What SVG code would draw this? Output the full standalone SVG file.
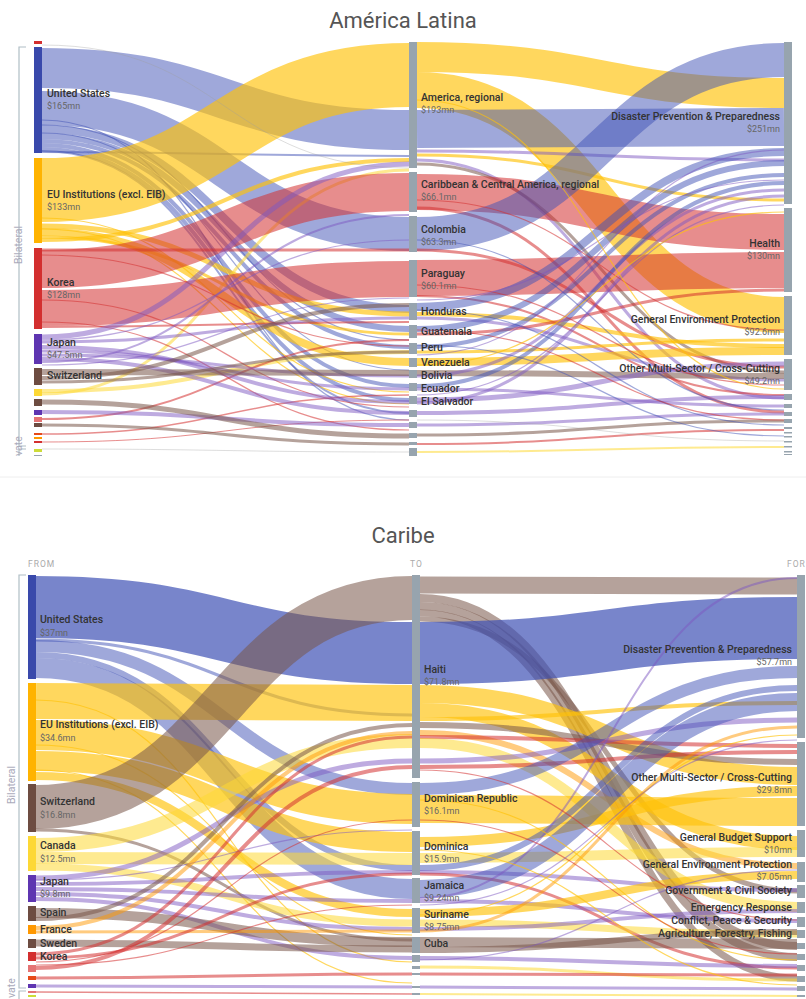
<svg xmlns="http://www.w3.org/2000/svg" width="806" height="999" viewBox="0 0 806 999">
<style>
.lk path{fill:none}
.b{stroke:#3f51b5;stroke-opacity:.5}
.bd{stroke:#3f51b5;stroke-opacity:.7}
.y{stroke:#ffc107;stroke-opacity:.65}
.yl{stroke:#fdd835;stroke-opacity:.55}
.r{stroke:#d32f2f;stroke-opacity:.55}
.p{stroke:#7e57c2;stroke-opacity:.5}
.w{stroke:#795548;stroke-opacity:.55}
.o{stroke:#ff9800;stroke-opacity:.5}
.g{stroke:#9e9e9e;stroke-opacity:.35}
.th{stroke-width:1.2}
.nb{fill:#3949ab}.ny{fill:#ffb300}.nyl{fill:#fdd835}.nr{fill:#d32f2f}.np{fill:#5e35b1}.nw{fill:#6d4c41}.ng{fill:#97a4ae}.no{fill:#ff9800}.npk{fill:#e57373}.nrr{fill:#e64a19}.nlg{fill:#cddc39}
text{font-family:Roboto,"Liberation Sans",sans-serif}
.t{font-size:10.5px;font-weight:500;fill:#333}
.v{font-size:9px;fill:#666}
.e{text-anchor:end}
.ttl{font-size:22px;fill:#555;text-anchor:middle}
.ax{font-size:8.5px;fill:#aaa;letter-spacing:1px}
.gr{font-size:10.5px;fill:#aab}
.br{stroke:#b0bec5;fill:none;stroke-width:1.2}
</style>
<rect width="806" height="999" fill="#fff"/>
<text class="ttl" x="403" y="28">América Latina</text>
<text class="ttl" x="403" y="543">Caribe</text>
<line x1="0" y1="477" x2="806" y2="477" stroke="#eee"/>
<text class="ax" x="28" y="567">FROM</text>
<text class="ax" x="410" y="567">TO</text>
<text class="ax" x="787" y="567">FOR</text>
<g id="brackets">
<path class="br" d="M26 47H19V446H26"/>
<path class="br" d="M26 449H19V456"/>
<text class="gr" transform="translate(22 245) rotate(-90)" text-anchor="middle">Bilateral</text>
<text class="gr" transform="translate(22 456) rotate(-90)">vate</text>
<path class="br" d="M26 575H19V988H26"/>
<path class="br" d="M26 991H19V999"/>
<text class="gr" transform="translate(15 785) rotate(-90)" text-anchor="middle">Bilateral</text>
<text class="gr" transform="translate(15 998) rotate(-90)">vate</text>
</g>
<g id="links" class="lk">
<!-- top: left to middle -->
<path class="b" stroke-width="40" d="M42 68C225 68 225 130 409 130"/>
<path class="b" stroke-width="34" d="M42 108C225 108 225 234 409 234"/>
<path class="b" stroke-width="8" d="M42 129C225 129 225 309 409 309"/>
<path class="b" stroke-width="6" d="M42 136C225 136 225 329 409 329"/>
<path class="b" stroke-width="4" d="M42 141C225 141 225 347 409 347"/>
<path class="b" stroke-width="4" d="M42 145C225 145 225 386 409 386"/>
<path class="b" stroke-width="4" d="M42 149C225 149 225 400 409 400"/>
<path class="b" stroke-width="2" d="M42 152C225 152 225 156 409 156"/>
<path class="b" stroke-width="2" d="M42 151C225 151 225 413 409 413"/>
<path class="b th" d="M42 120C225 120 225 420 409 420"/>
<path class="b th" d="M42 125C225 125 225 340 409 340"/>
<path class="b th" d="M42 133C225 133 225 370 409 370"/>
<path class="y" stroke-width="64" d="M42 190C225 190 225 75 409 75"/>
<path class="y" stroke-width="5" d="M42 226C225 226 225 314 409 314"/>
<path class="y" stroke-width="8" d="M42 232C225 232 225 362 409 362"/>
<path class="y" stroke-width="4" d="M42 240C225 240 225 160 409 160"/>
<path class="y" stroke-width="3" d="M42 237C225 237 225 334 409 334"/>
<path class="y th" d="M42 218C225 218 225 392 409 392"/>
<path class="y th" d="M42 229C225 229 225 404 409 404"/>
<path class="yl" stroke-width="4" d="M42 391C225 391 225 352 409 352"/>
<path class="yl" stroke-width="3" d="M42 394C225 394 225 170 409 170"/>
<path class="r" stroke-width="38" d="M42 269C225 269 225 192 409 192"/>
<path class="r" stroke-width="36" d="M42 308C225 308 225 279 409 279"/>
<path class="r" stroke-width="3" d="M42 250C225 250 225 250 409 250"/>
<path class="r" stroke-width="2" d="M42 327C225 327 225 322 409 322"/>
<path class="r" stroke-width="2" d="M42 419C225 419 225 340 409 340"/>
<path class="r" stroke-width="1.5" d="M42 434C225 434 225 395 409 395"/>
<path class="r" stroke-width="1" d="M42 442C225 442 225 420 409 420"/>
<path class="r th" d="M42 255C225 255 225 346 409 346"/>
<path class="r th" d="M42 300C225 300 225 407 409 407"/>
<path class="r th" d="M42 322C225 322 225 430 409 430"/>
<path class="p" stroke-width="5" d="M42 337C225 337 225 164 409 164"/>
<path class="p" stroke-width="3" d="M42 342C225 342 225 318 409 318"/>
<path class="p" stroke-width="4" d="M42 347C225 347 225 402 409 402"/>
<path class="p" stroke-width="3" d="M42 351C225 351 225 389 409 389"/>
<path class="p" stroke-width="3" d="M42 355C225 355 225 376 409 376"/>
<path class="p" stroke-width="4" d="M42 359C225 359 225 413 409 413"/>
<path class="p" stroke-width="2" d="M42 362C225 362 225 215 409 215"/>
<path class="p" stroke-width="4" d="M42 412C225 412 225 425 409 425"/>
<path class="p th" d="M42 365C225 365 225 298 409 298"/>
<path class="p th" d="M42 340C225 340 225 240 409 240"/>
<path class="w" stroke-width="6" d="M42 372C225 372 225 373 409 373"/>
<path class="w" stroke-width="4" d="M42 378C225 378 225 305 409 305"/>
<path class="w" stroke-width="3" d="M42 382C225 382 225 352 409 352"/>
<path class="w" stroke-width="5" d="M42 402C225 402 225 436 409 436"/>
<path class="w" stroke-width="3" d="M42 425C225 425 225 444 409 444"/>
<path class="g" stroke-width="1" d="M42 45C225 45 225 168 409 168"/>
<path class="g" stroke-width="1" d="M42 449C225 449 225 452 409 452"/>
<!-- top: middle to right -->
<path class="y" stroke-width="30" d="M417 57C600 57 600 93 784 93"/>
<path class="y" stroke-width="36" d="M417 90C600 90 600 315 784 315"/>
<path class="b" stroke-width="38" d="M417 129C600 129 600 127 784 127"/>
<path class="p" stroke-width="3" d="M417 151C600 151 600 160 784 160"/>
<path class="y" stroke-width="3" d="M417 155C600 155 600 200 784 200"/>
<path class="p" stroke-width="3" d="M417 160C600 160 600 398 784 398"/>
<path class="w" stroke-width="3" d="M417 164C600 164 600 372 784 372"/>
<path class="r" stroke-width="36" d="M417 192C600 192 600 232 784 232"/>
<path class="r" stroke-width="3" d="M417 208C600 208 600 412 784 412"/>
<path class="b" stroke-width="34" d="M417 234C600 234 600 60 784 60"/>
<path class="r" stroke-width="3" d="M417 250C600 250 600 367 784 367"/>
<path class="r" stroke-width="36" d="M417 278C600 278 600 270 784 270"/>
<path class="r" stroke-width="2" d="M417 296C600 296 600 395 784 395"/>
<path class="b" stroke-width="8" d="M417 307C600 307 600 152 784 152"/>
<path class="y" stroke-width="4" d="M417 314C600 314 600 346 784 346"/>
<path class="p" stroke-width="3" d="M417 318C600 318 600 380 784 380"/>
<path class="b" stroke-width="6" d="M417 329C600 329 600 163 784 163"/>
<path class="r" stroke-width="3" d="M417 334C600 334 600 290 784 290"/>
<path class="b" stroke-width="4" d="M417 347C600 347 600 175 784 175"/>
<path class="y" stroke-width="3" d="M417 352C600 352 600 340 784 340"/>
<path class="y" stroke-width="8" d="M417 362C600 362 600 351 784 351"/>
<path class="w" stroke-width="6" d="M417 373C600 373 600 376 784 376"/>
<path class="p" stroke-width="3" d="M417 376C600 376 600 190 784 190"/>
<path class="b" stroke-width="4" d="M417 386C600 386 600 183 784 183"/>
<path class="p" stroke-width="3" d="M417 389C600 389 600 406 784 406"/>
<path class="p" stroke-width="5" d="M417 400C600 400 600 364 784 364"/>
<path class="p" stroke-width="3" d="M417 403C600 403 600 196 784 196"/>
<path class="p" stroke-width="4" d="M417 413C600 413 600 397 784 397"/>
<path class="p" stroke-width="3" d="M417 425C600 425 600 414 784 414"/>
<path class="w" stroke-width="3" d="M417 435C600 435 600 421 784 421"/>
<path class="r" stroke-width="2" d="M417 444C600 444 600 430 784 430"/>
<path class="yl" stroke-width="2" d="M417 452C600 452 600 447 784 447"/>
<path class="g" stroke-width="1" d="M417 420C600 420 600 441 784 441"/>
<path class="b th" d="M417 240C600 240 600 410 784 410"/>
<path class="b th" d="M417 310C600 310 600 425 784 425"/>
<path class="b th" d="M417 345C600 345 600 436 784 436"/>
<path class="r th" d="M417 200C600 200 600 330 784 330"/>
<path class="r th" d="M417 285C600 285 600 385 784 385"/>
<path class="r th" d="M417 330C600 330 600 420 784 420"/>
<path class="p th" d="M417 300C600 300 600 180 784 180"/>
<path class="p th" d="M417 355C600 355 600 150 784 150"/>
<path class="p th" d="M417 395C600 395 600 205 784 205"/>
<path class="y th" d="M417 100C600 100 600 389 784 389"/>
<path class="y th" d="M417 365C600 365 600 212 784 212"/>
<!-- bottom: left to middle -->
<path class="bd" stroke-width="62" d="M36 607C224 607 224 653 412 653"/>
<path class="b" stroke-width="12" d="M36 646C224 646 224 789 412 789"/>
<path class="b" stroke-width="6" d="M36 655C224 655 224 868 412 868"/>
<path class="b" stroke-width="20" d="M36 668C224 668 224 889 412 889"/>
<path class="b" stroke-width="3" d="M36 640C224 640 224 715 412 715"/>
<path class="y" stroke-width="36" d="M36 701C224 701 224 703 412 703"/>
<path class="y" stroke-width="30" d="M36 735C224 735 224 809 412 809"/>
<path class="y" stroke-width="20" d="M36 761C224 761 224 842 412 842"/>
<path class="y" stroke-width="8" d="M36 776C224 776 224 913 412 913"/>
<path class="y th" d="M36 700C224 700 224 962 412 962"/>
<path class="y th" d="M36 745C224 745 224 935 412 935"/>
<path class="y th" d="M36 770C224 770 224 983 412 983"/>
<path class="w" stroke-width="44" d="M36 807C224 807 224 598 412 598"/>
<path class="w" stroke-width="3" d="M36 830C224 830 224 940 412 940"/>
<path class="yl" stroke-width="14" d="M36 845C224 845 224 741 412 741"/>
<path class="yl" stroke-width="12" d="M36 858C224 858 224 859 412 859"/>
<path class="yl" stroke-width="7" d="M36 867C224 867 224 923 412 923"/>
<path class="p" stroke-width="5" d="M36 878C224 878 224 761 412 761"/>
<path class="p" stroke-width="4" d="M36 884C224 884 224 872 412 872"/>
<path class="p" stroke-width="4" d="M36 889C224 889 224 901 412 901"/>
<path class="p" stroke-width="4" d="M36 894C224 894 224 929 412 929"/>
<path class="p" stroke-width="4" d="M36 899C224 899 224 958 412 958"/>
<path class="p th" d="M36 880C224 880 224 830 412 830"/>
<path class="w" stroke-width="10" d="M36 913C224 913 224 942 412 942"/>
<path class="w" stroke-width="4" d="M36 919C224 919 224 725 412 725"/>
<path class="o" stroke-width="4" d="M36 928C224 928 224 733 412 733"/>
<path class="o" stroke-width="3" d="M36 932C224 932 224 931 412 931"/>
<path class="w" stroke-width="7" d="M36 943C224 943 224 949 412 949"/>
<path class="r" stroke-width="3" d="M36 954C224 954 224 737 412 737"/>
<path class="r" stroke-width="3" d="M36 958C224 958 224 874 412 874"/>
<path class="r" stroke-width="4" d="M36 968C224 968 224 767 412 767"/>
<path class="r" stroke-width="3" d="M36 978C224 978 224 974 412 974"/>
<path class="r th" d="M36 962C224 962 224 820 412 820"/>
<path class="r th" d="M36 965C224 965 224 905 412 905"/>
<path class="p" stroke-width="3" d="M36 986C224 986 224 987 412 987"/>
<path class="r" stroke-width="1.5" d="M36 992C224 992 224 994 412 994"/>
<!-- bottom: middle to right -->
<path class="w" stroke-width="17" d="M420 585C608 585 608 586 797 586"/>
<path class="w" stroke-width="8" d="M420 598C608 598 608 946 797 946"/>
<path class="w" stroke-width="8" d="M420 606C608 606 608 957 797 957"/>
<path class="w" stroke-width="7" d="M420 613C608 613 608 978 797 978"/>
<path class="w" stroke-width="5" d="M420 619C608 619 608 891 797 891"/>
<path class="bd" stroke-width="62" d="M420 653C608 653 608 628 797 628"/>
<path class="y" stroke-width="18" d="M420 694C608 694 608 776 797 776"/>
<path class="y" stroke-width="14" d="M420 710C608 710 608 843 797 843"/>
<path class="y" stroke-width="4" d="M420 719C608 719 608 703 797 703"/>
<path class="w" stroke-width="6" d="M420 725C608 725 608 762 797 762"/>
<path class="o" stroke-width="6" d="M420 733C608 733 608 866 797 866"/>
<path class="r" stroke-width="4" d="M420 737C608 737 608 746 797 746"/>
<path class="yl" stroke-width="10" d="M420 743C608 743 608 907 797 907"/>
<path class="p" stroke-width="5" d="M420 761C608 761 608 720 797 720"/>
<path class="r" stroke-width="4" d="M420 767C608 767 608 752 797 752"/>
<path class="b" stroke-width="12" d="M420 789C608 789 608 672 797 672"/>
<path class="y" stroke-width="28" d="M420 809C608 809 608 812 797 812"/>
<path class="y" stroke-width="10" d="M420 842C608 842 608 791 797 791"/>
<path class="yl" stroke-width="10" d="M420 858C608 858 608 852 797 852"/>
<path class="b" stroke-width="6" d="M420 868C608 868 608 688 797 688"/>
<path class="p" stroke-width="4" d="M420 872C608 872 608 890 797 890"/>
<path class="r" stroke-width="3" d="M420 874C608 874 608 968 797 968"/>
<path class="b" stroke-width="18" d="M420 889C608 889 608 702 797 702"/>
<path class="p" stroke-width="4" d="M420 901C608 901 608 921 797 921"/>
<path class="p" stroke-width="2" d="M420 898C608 898 608 578 797 578"/>
<path class="y" stroke-width="8" d="M420 913C608 913 608 875 797 875"/>
<path class="yl" stroke-width="7" d="M420 923C608 923 608 934 797 934"/>
<path class="p" stroke-width="4" d="M420 929C608 929 608 911 797 911"/>
<path class="o" stroke-width="3" d="M420 931C608 931 608 727 797 727"/>
<path class="w" stroke-width="10" d="M420 942C608 942 608 944 797 944"/>
<path class="w" stroke-width="6" d="M420 950C608 950 608 932 797 932"/>
<path class="p" stroke-width="4" d="M420 958C608 958 608 966 797 966"/>
<path class="yl" stroke-width="3" d="M420 967C608 967 608 980 797 980"/>
<path class="r" stroke-width="3" d="M420 974C608 974 608 975 797 975"/>
<path class="p" stroke-width="3" d="M420 987C608 987 608 989 797 989"/>
<path class="yl" stroke-width="2" d="M420 994C608 994 608 996 797 996"/>
<path class="y th" d="M420 800C608 800 608 960 797 960"/>
<path class="y th" d="M420 850C608 850 608 985 797 985"/>
<path class="y th" d="M420 915C608 915 608 735 797 735"/>
<path class="r th" d="M420 820C608 820 608 954 797 954"/>
<path class="r th" d="M420 770C608 770 608 920 797 920"/>
<path class="p th" d="M420 905C608 905 608 740 797 740"/>
<path class="p th" d="M420 960C608 960 608 870 797 870"/>
</g>
<g id="top-left-nodes">
<rect class="nr" x="34" y="41" width="8" height="3"/>
<g id="t-us"><rect class="nb" x="34" y="47" width="8" height="106"/><text class="t" x="47" y="97">United States</text><text class="v" x="47" y="109">$165mn</text></g>
<g id="t-eu"><rect class="ny" x="34" y="158" width="8" height="85"/><text class="t" x="47" y="198">EU Institutions (excl. EIB)</text><text class="v" x="47" y="210">$133mn</text></g>
<g id="t-korea"><rect class="nr" x="34" y="248" width="8" height="81"/><text class="t" x="47" y="286">Korea</text><text class="v" x="47" y="298">$128mn</text></g>
<g id="t-japan"><rect class="np" x="34" y="334" width="8" height="30"/><text class="t" x="47" y="346">Japan</text><text class="v" x="47" y="358">$47.5mn</text></g>
<g id="t-swiss"><rect class="nw" x="34" y="368" width="8" height="17"/><text class="t" x="47" y="379">Switzerland</text></g>
<rect class="nyl" x="34" y="389" width="8" height="7"/>
<rect class="nw" x="34" y="399" width="8" height="7"/>
<rect class="np" x="34" y="410" width="8" height="5"/>
<rect class="npk" x="34" y="417" width="8" height="5"/>
<rect class="nw" x="34" y="423" width="8" height="4"/>
<rect class="nrr" x="34" y="433" width="8" height="2"/>
<rect class="no" x="34" y="437" width="8" height="2"/>
<rect class="nr" x="34" y="441" width="8" height="2"/>
<rect class="nlg" x="34" y="449" width="8" height="3"/>
<rect class="ng" x="34" y="455" width="8" height="1"/>
</g>
<g id="top-mid-nodes">
<g id="t-amreg"><rect class="ng" x="409" y="42" width="8" height="126"/><text class="t" x="421" y="101">America, regional</text><text class="v" x="421" y="113">$193mn</text></g>
<g id="t-carib"><rect class="ng" x="409" y="172" width="8" height="40"/><text class="t" x="421" y="188">Caribbean &amp; Central America, regional</text><text class="v" x="421" y="200">$66.1mn</text></g>
<g id="t-col"><rect class="ng" x="409" y="216" width="8" height="36"/><text class="t" x="421" y="233">Colombia</text><text class="v" x="421" y="245">$63.3mn</text></g>
<g id="t-par"><rect class="ng" x="409" y="260" width="8" height="37"/><text class="t" x="421" y="277">Paraguay</text><text class="v" x="421" y="289">$60.1mn</text></g>
<g id="t-hon"><rect class="ng" x="409" y="303" width="8" height="17"/><text class="t" x="421" y="315">Honduras</text></g>
<g id="t-gua"><rect class="ng" x="409" y="325" width="8" height="13"/><text class="t" x="421" y="335">Guatemala</text></g>
<g id="t-per"><rect class="ng" x="409" y="343" width="8" height="11"/><text class="t" x="421" y="351">Peru</text></g>
<g id="t-ven"><rect class="ng" x="409" y="358" width="8" height="9"/><text class="t" x="421" y="366">Venezuela</text></g>
<g id="t-bol"><rect class="ng" x="409" y="370" width="8" height="8"/><text class="t" x="421" y="379">Bolivia</text></g>
<g id="t-ecu"><rect class="ng" x="409" y="383" width="8" height="8"/><text class="t" x="421" y="392">Ecuador</text></g>
<g id="t-els"><rect class="ng" x="409" y="396" width="8" height="8"/><text class="t" x="421" y="405">El Salvador</text></g>
<rect class="ng" x="409" y="410" width="8" height="7"/>
<rect class="ng" x="409" y="422" width="8" height="6"/>
<rect class="ng" x="409" y="433" width="8" height="5"/>
<rect class="ng" x="409" y="442" width="8" height="3"/>
<rect class="ng" x="409" y="448" width="8" height="8"/>
</g>
<g id="top-right-nodes">
<g id="t-dpp"><rect class="ng" x="784" y="42" width="8" height="162"/><text class="t e" x="780" y="120">Disaster Prevention &amp; Preparedness</text><text class="v e" x="780" y="132">$251mn</text></g>
<g id="t-health"><rect class="ng" x="784" y="208" width="8" height="84"/><text class="t e" x="780" y="247">Health</text><text class="v e" x="780" y="259">$130mn</text></g>
<g id="t-gep"><rect class="ng" x="784" y="296" width="8" height="59"/><text class="t e" x="780" y="323">General Environment Protection</text><text class="v e" x="780" y="335">$92.6mn</text></g>
<g id="t-other"><rect class="ng" x="784" y="359" width="8" height="31"/><text class="t e" x="780" y="372">Other Multi-Sector / Cross-Cutting</text><text class="v e" x="780" y="384">$49.2mn</text></g>
<rect class="ng" x="784" y="394" width="8" height="6"/>
<rect class="ng" x="784" y="404" width="8" height="4"/>
<rect class="ng" x="784" y="412" width="8" height="4"/>
<rect class="ng" x="784" y="419" width="8" height="4"/>
<rect class="ng" x="784" y="427" width="8" height="2"/>
<rect class="ng" x="784" y="432" width="8" height="1.5"/>
<rect class="ng" x="784" y="436" width="8" height="1.5"/>
<rect class="ng" x="784" y="441" width="8" height="1.5"/>
<rect class="ng" x="784" y="446" width="8" height="1.5"/>
<rect class="ng" x="784" y="451" width="8" height="1.5"/>
<rect class="ng" x="784" y="454" width="8" height="1"/>
</g>
<g id="bottom-left-nodes">
<g id="b-us"><rect class="nb" x="28" y="575" width="8" height="104"/><text class="t" x="40" y="623">United States</text><text class="v" x="40" y="636">$37mn</text></g>
<g id="b-eu"><rect class="ny" x="28" y="683" width="8" height="98"/><text class="t" x="40" y="728">EU Institutions (excl. EIB)</text><text class="v" x="40" y="741">$34.6mn</text></g>
<g id="b-swiss"><rect class="nw" x="28" y="784" width="8" height="48"/><text class="t" x="40" y="805">Switzerland</text><text class="v" x="40" y="818">$16.8mn</text></g>
<g id="b-canada"><rect class="nyl" x="28" y="836" width="8" height="35"/><text class="t" x="40" y="849">Canada</text><text class="v" x="40" y="862">$12.5mn</text></g>
<g id="b-japan"><rect class="np" x="28" y="875" width="8" height="27"/><text class="t" x="40" y="885">Japan</text><text class="v" x="40" y="897">$9.8mn</text></g>
<g id="b-spain"><rect class="nw" x="28" y="906" width="8" height="15"/><text class="t" x="40" y="916">Spain</text></g>
<g id="b-france"><rect class="no" x="28" y="925" width="8" height="9"/><text class="t" x="40" y="933">France</text></g>
<g id="b-sweden"><rect class="nw" x="28" y="939" width="8" height="9"/><text class="t" x="40" y="947">Sweden</text></g>
<g id="b-korea"><rect class="nr" x="28" y="952" width="8" height="9"/><text class="t" x="40" y="960">Korea</text></g>
<rect class="npk" x="28" y="965" width="8" height="7"/>
<rect class="nrr" x="28" y="976" width="8" height="4"/>
<rect class="np" x="28" y="984" width="8" height="4"/>
<rect class="npk" x="28" y="991" width="8" height="2"/>
<rect class="nlg" x="28" y="995" width="8" height="2"/>
</g>
<g id="bottom-mid-nodes">
<g id="b-haiti"><rect class="ng" x="412" y="575" width="8" height="203"/><text class="t" x="424" y="673">Haiti</text><text class="v" x="424" y="685">$71.8mn</text></g>
<g id="b-dr"><rect class="ng" x="412" y="782" width="8" height="45"/><text class="t" x="424" y="802">Dominican Republic</text><text class="v" x="424" y="814">$16.1mn</text></g>
<g id="b-dominica"><rect class="ng" x="412" y="831" width="8" height="44"/><text class="t" x="424" y="850">Dominica</text><text class="v" x="424" y="862">$15.9mn</text></g>
<g id="b-jamaica"><rect class="ng" x="412" y="878" width="8" height="25"/><text class="t" x="424" y="889">Jamaica</text><text class="v" x="424" y="901">$9.24mn</text></g>
<g id="b-suriname"><rect class="ng" x="412" y="908" width="8" height="25"/><text class="t" x="424" y="918">Suriname</text><text class="v" x="424" y="930">$8.75mn</text></g>
<g id="b-cuba"><rect class="ng" x="412" y="937" width="8" height="16"/><text class="t" x="424" y="947">Cuba</text></g>
<rect class="ng" x="412" y="955" width="8" height="7"/>
<rect class="ng" x="412" y="966" width="8" height="3"/>
<rect class="ng" x="412" y="973" width="8" height="2"/>
<rect class="ng" x="412" y="986" width="8" height="2"/>
<rect class="ng" x="412" y="993" width="8" height="2"/>
</g>
<g id="bottom-right-nodes">
<g id="b-dpp"><rect class="ng" x="797" y="575" width="8" height="163"/><text class="t e" x="792" y="653">Disaster Prevention &amp; Preparedness</text><text class="v e" x="792" y="665">$57.7mn</text></g>
<g id="b-other"><rect class="ng" x="797" y="742" width="8" height="84"/><text class="t e" x="792" y="781">Other Multi-Sector / Cross-Cutting</text><text class="v e" x="792" y="793">$29.8mn</text></g>
<g id="b-gbs"><rect class="ng" x="797" y="830" width="8" height="27"/><text class="t e" x="792" y="841">General Budget Support</text><text class="v e" x="792" y="853">$10mn</text></g>
<g id="b-gep"><rect class="ng" x="797" y="862" width="8" height="20"/><text class="t e" x="792" y="868">General Environment Protection</text><text class="v e" x="792" y="880">$7.05mn</text></g>
<g id="b-gov"><rect class="ng" x="797" y="885" width="8" height="13"/><text class="t e" x="792" y="894">Government &amp; Civil Society</text></g>
<g id="b-emerg"><rect class="ng" x="797" y="902" width="8" height="11"/><text class="t e" x="792" y="911">Emergency Response</text></g>
<g id="b-conf"><rect class="ng" x="797" y="917" width="8" height="10"/><text class="t e" x="792" y="924">Conflict, Peace &amp; Security</text></g>
<g id="b-agri"><rect class="ng" x="797" y="930" width="8" height="8"/><text class="t e" x="792" y="937">Agriculture, Forestry, Fishing</text></g>
<rect class="ng" x="797" y="943" width="8" height="6"/>
<rect class="ng" x="797" y="954" width="8" height="6"/>
<rect class="ng" x="797" y="965" width="8" height="6"/>
<rect class="ng" x="797" y="976" width="8" height="6"/>
<rect class="ng" x="797" y="986" width="8" height="5"/>
<rect class="ng" x="797" y="995" width="8" height="2"/>
</g>
</svg>
